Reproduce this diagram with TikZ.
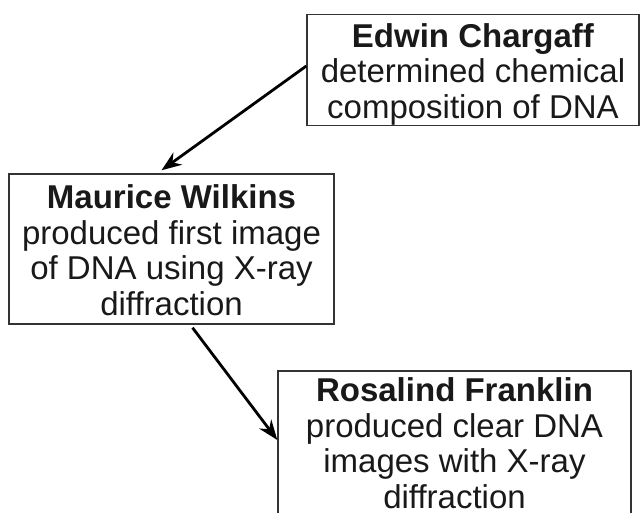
\documentclass[tikz,border=0pt]{standalone}
\usepackage{fontspec}
\setmainfont{Liberation Sans}
\usetikzlibrary{arrows.meta}
\begin{document}
\begin{tikzpicture}[x=1pt,y=-1pt,
  infobox/.style={draw=black!80, line width=1.4pt, inner sep=0pt},
  infotext/.style={inner sep=0pt, align=center,
    font=\fontsize{33}{35.5}\selectfont, text=black!90},
  link/.style={line width=2.8pt, -{Stealth[length=20pt,width=15pt]}}]
  \useasboundingbox (0,0) rectangle (643,513);
  \begin{scope}
    \clip (0,0) rectangle (643,513);
    % the three boxes
    \node[infobox, minimum width=332pt, minimum height=111pt] (chargaff) at (473,70) {};
    \node[infobox, minimum width=325pt, minimum height=150pt] (wilkins) at (171.5,249) {};
    \node[infobox, minimum width=353pt, minimum height=150pt] (franklin) at (454.5,446) {};
    % their texts
    \node[infotext] (chargaff-t) at ([yshift=-4pt]chargaff.center)
      {\textbf{Edwin Chargaff}\\determined chemical\\composition of DNA};
    \node[infotext] (wilkins-t) at ([yshift=-1pt]wilkins.center)
      {\textbf{Maurice Wilkins}\\produced first image\\of DNA using X-ray\\diffraction};
    \node[infotext] (franklin-t) at ([yshift=3pt]franklin.center)
      {\textbf{Rosalind Franklin}\\produced clear DNA\\images with X-ray\\diffraction};
  \end{scope}
  \draw[link] ([yshift=4pt]chargaff.west) -- ([xshift=-10pt,yshift=3pt]wilkins.north);
  \draw[link] ([xshift=21pt,yshift=-3pt]wilkins.south) -- ([yshift=6pt]franklin.west);
\end{tikzpicture}
\end{document}
